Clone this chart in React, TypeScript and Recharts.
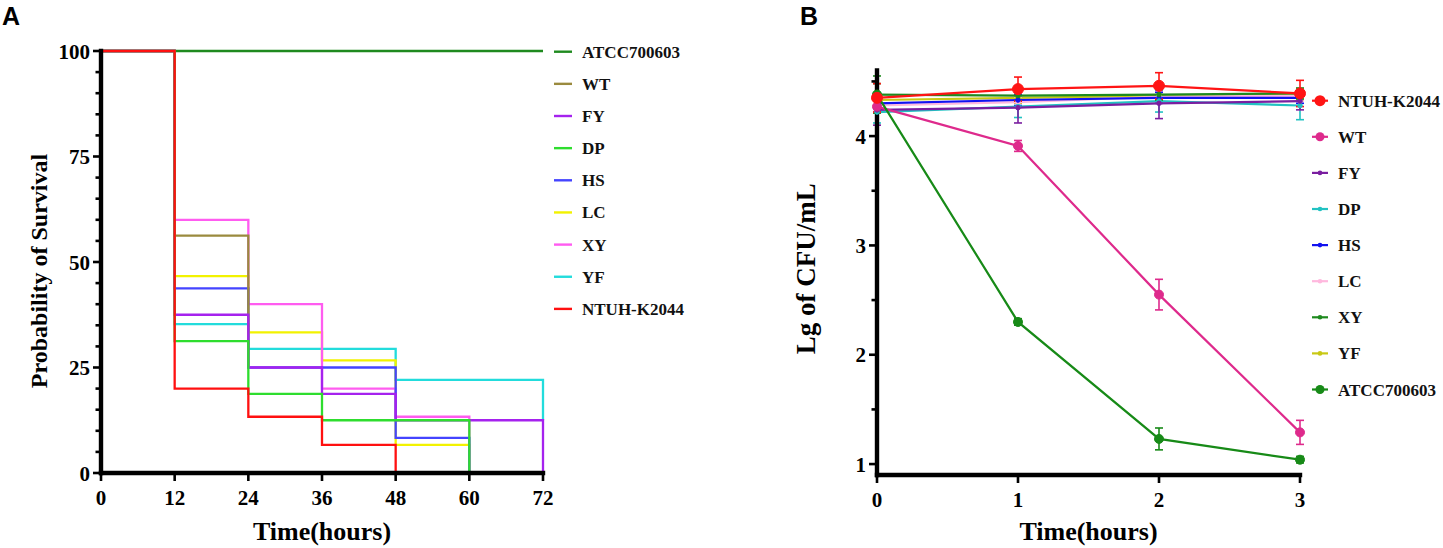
import React from 'react';
import { LineChart, Line, XAxis, YAxis, ErrorBar, Label } from 'recharts';

const SERIF = '"Liberation Serif", "Times New Roman", serif';
const SANS = '"Liberation Sans", Arial, sans-serif';

// ---- Panel A: survival (%) over time (hours), step curves
const hoursA = [0, 12, 24, 36, 48, 60, 72];
const survATCC = [100, 100, 100, 100, 100, 100, 100];
const survWT = [100, 56.25, 25, null, null, null, null];
const survFY = [100, 37.5, 25, 18.75, 12.5, 12.5, 0];
const survDP = [100, 31.25, 18.75, 12.5, 12.5, 0, null];
const survHS = [100, 43.75, 25, 25, 8.33, 0, null];
const survLC = [100, 46.67, 33.33, 26.67, 6.67, 0, null];
const survXY = [100, 60, 40, 20, 13.33, 0, null];
const survYF = [100, 35.29, 29.41, 29.41, 22.06, 22.06, 12.5];
const survNTUH = [100, 20, 13.33, 6.67, 0, null, null];
const ticksA = [0, 12, 24, 36, 48, 60, 72];
const yTicksA = [0, 5, 10, 15, 20, 25, 30, 35, 40, 45, 50, 55, 60, 65, 70, 75, 80, 85, 90, 95, 100];

// ---- Panel B: Lg CFU/mL over time (hours), mean and SD
const hoursB = [0, 1, 2, 3];
const lgNTUH = [4.35, 4.43, 4.46, 4.39];
const sdNTUH = [0.13, 0.11, 0.12, 0.12];
const lgWT = [4.27, 3.91, 2.55, 1.29];
const sdWT = [0.05, 0.05, 0.14, 0.11];
const lgFY = [4.24, 4.26, 4.3, 4.32];
const sdFY = [0.14, 0.14, 0.14, 0.08];
const lgDP = [4.22, 4.27, 4.32, 4.28];
const sdDP = [0.1, 0.1, 0.1, 0.13];
const lgHS = [4.3, 4.33, 4.35, 4.35];
const sdHS = [0.05, 0.05, 0.05, 0.05];
const lgLC = [4.28, 4.31, 4.36, 4.37];
const sdLC = [0.05, 0.05, 0.05, 0.05];
const lgXY = [4.38, 4.37, 4.38, 4.39];
const sdXY = [0.17, 0.05, 0.05, 0.05];
const lgYF = [4.33, 4.35, 4.37, 4.38];
const sdYF = [0.05, 0.05, 0.05, 0.05];
const lgATCC = [4.38, 2.3, 1.23, 1.04];
const sdATCC = [0.1, 0.03, 0.1, 0.03];
const yTicksB = [1, 1.5, 2, 2.5, 3, 3.5, 4, 4.5];

const seriesA = [
  { key: 'ATCC700603', color: '#1F8A1F', values: survATCC },
  { key: 'WT', color: '#9A8A3E', values: survWT },
  { key: 'FY', color: '#A522EE', values: survFY },
  { key: 'DP', color: '#2EDD2E', values: survDP },
  { key: 'HS', color: '#4444FF', values: survHS },
  { key: 'LC', color: '#F2F200', values: survLC },
  { key: 'XY', color: '#FF5CF0', values: survXY },
  { key: 'YF', color: '#22DCDC', values: survYF },
  { key: 'NTUH-K2044', color: '#FF1010', values: survNTUH },
];
const drawOrderA = ['ATCC700603', 'YF', 'LC', 'XY', 'HS', 'WT', 'FY', 'DP', 'NTUH-K2044'];

const seriesB = [
  { key: 'NTUH-K2044', color: '#FF1414', values: lgNTUH, sd: sdNTUH, r: 5.5 },
  { key: 'WT', color: '#DE2A8C', values: lgWT, sd: sdWT, r: 4.5 },
  { key: 'FY', color: '#7A1EA0', values: lgFY, sd: sdFY, r: 2.3 },
  { key: 'DP', color: '#22C2C2', values: lgDP, sd: sdDP, r: 2.3 },
  { key: 'HS', color: '#1212F0', values: lgHS, sd: sdHS, r: 2.3 },
  { key: 'LC', color: '#FFB8DE', values: lgLC, sd: sdLC, r: 2.3 },
  { key: 'XY', color: '#1E8A1E', values: lgXY, sd: sdXY, r: 2.3 },
  { key: 'YF', color: '#C8C814', values: lgYF, sd: sdYF, r: 2.3 },
  { key: 'ATCC700603', color: '#178A17', values: lgATCC, sd: sdATCC, r: 4.5 },
];
const drawOrderB = ['YF', 'LC', 'HS', 'DP', 'FY', 'XY', 'WT', 'ATCC700603', 'NTUH-K2044'];

const rowsA = hoursA.map((t, i) => {
  const row: any = { t };
  seriesA.forEach((s) => (row[s.key] = s.values[i]));
  return row;
});

const rowsB = hoursB.map((t, i) => {
  const row: any = { t };
  seriesB.forEach((s) => {
    row[s.key] = s.values[i];
    row[s.key + '_sd'] = s.sd[i];
  });
  return row;
});

const tickFont = { fill: '#000', fontSize: 21, fontWeight: 'bold', fontFamily: SERIF };

const makeYTick = (isMajor: (v: number) => boolean, half: number) => (props: any) => {
  const { x, y, payload } = props;
  const major = isMajor(payload.value);
  return (
    <g>
      <line x1={x - half - (major ? 6 : 3.5)} x2={x} y1={y} y2={y} stroke="#000" strokeWidth={2.6} />
      {major && (
        <text x={x - half - 9} y={y} dy="0.36em" textAnchor="end" {...tickFont}>
          {payload.value}
        </text>
      )}
    </g>
  );
};

const tickA = makeYTick((v) => v % 25 === 0, 2);
const tickB = makeYTick((v) => Number.isInteger(v), 2);

function LegendA() {
  return (
    <svg width={200} height={300} style={{ position: 'absolute', left: 548, top: 35 }}>
      {seriesA.map((s, i) => {
        const cy = 16.7 + 32.15 * i;
        return (
          <g key={s.key}>
            <line x1={6} x2={24} y1={cy} y2={cy} stroke={s.color} strokeWidth={2.4} />
            <text x={34} y={cy + 6} fontFamily={SERIF} fontWeight="bold" fontSize={17} fill="#111">
              {s.key}
            </text>
          </g>
        );
      })}
    </svg>
  );
}

function LegendB() {
  return (
    <svg width={143} height={330} style={{ position: 'absolute', left: 1300, top: 80 }}>
      {seriesB.map((s, i) => {
        const cy = 20.7 + 36.1 * i;
        return (
          <g key={s.key}>
            <line x1={12} x2={28} y1={cy} y2={cy} stroke={s.color} strokeWidth={2.2} />
            <circle cx={20} cy={cy} r={s.r} fill={s.color} />
            <text x={38} y={cy + 6} fontFamily={SERIF} fontWeight="bold" fontSize={17} fill="#111">
              {s.key}
            </text>
          </g>
        );
      })}
    </svg>
  );
}

const axisLine = { stroke: '#000', strokeWidth: 4.4, strokeLinecap: 'square' as const };

export default function App() {
  return (
    <div style={{ position: 'absolute', left: 0, top: 0, width: 1443, height: 548, background: '#fff' }}>
      <div style={{ position: 'absolute', left: 2, top: 2, fontFamily: SANS, fontWeight: 'bold', fontSize: 25, lineHeight: '28px' }}>A</div>
      <div style={{ position: 'absolute', left: 800, top: 2, fontFamily: SANS, fontWeight: 'bold', fontSize: 25, lineHeight: '28px' }}>B</div>

      <div style={{ position: 'absolute', left: 0, top: 0 }}>
        <LineChart width={760} height={548} data={rowsA} margin={{ top: 51, right: 217, bottom: 0, left: 31 }}>
          <XAxis
            dataKey="t"
            type="number"
            domain={[0, 72]}
            ticks={ticksA}
            interval={0}
            height={75}
            axisLine={axisLine}
            tickLine={{ stroke: '#000', strokeWidth: 2.6 }}
            tickSize={8}
            tickMargin={9}
            tick={tickFont}
          >
            <Label
              value="Time(hours)"
              position="insideBottom"
              offset={8}
              style={{ fontFamily: SERIF, fontWeight: 'bold', fontSize: 26, fill: '#000' }}
            />
          </XAxis>
          <YAxis
            type="number"
            domain={[0, 100]}
            ticks={yTicksA}
            interval={0}
            width={70}
            axisLine={axisLine}
            tickLine={false}
            tickSize={0}
            tickMargin={0}
            tick={tickA}
          >
            <Label
              value="Probability of Survival"
              angle={-90}
              position="insideLeft"
              offset={7}
              dy={9}
              style={{ textAnchor: 'middle', fontFamily: SERIF, fontWeight: 'bold', fontSize: 24, fill: '#000' }}
            />
          </YAxis>
          {drawOrderA.map((k) => {
            const s = seriesA.find((x) => x.key === k)!;
            return (
              <Line
                key={k}
                dataKey={k}
                type="stepAfter"
                stroke={s.color}
                strokeWidth={2.3}
                dot={false}
                activeDot={false}
                isAnimationActive={false}
              />
            );
          })}
        </LineChart>
      </div>
      <LegendA />

      <div style={{ position: 'absolute', left: 760, top: 0 }}>
        <LineChart width={683} height={548} data={rowsB} margin={{ top: 70.5, right: 143, bottom: 0, left: 47 }}>
          <XAxis
            dataKey="t"
            type="number"
            domain={[0, 3]}
            ticks={hoursB}
            interval={0}
            height={73}
            axisLine={axisLine}
            tickLine={{ stroke: '#000', strokeWidth: 2.6 }}
            tickSize={8}
            tickMargin={9}
            tick={tickFont}
          >
            <Label
              value="Time(hours)"
              position="insideBottom"
              offset={8}
              style={{ fontFamily: SERIF, fontWeight: 'bold', fontSize: 26, fill: '#000' }}
            />
          </XAxis>
          <YAxis
            type="number"
            domain={[0.9, 4.6]}
            ticks={yTicksB}
            interval={0}
            width={70}
            axisLine={axisLine}
            tickLine={false}
            tickSize={0}
            tickMargin={0}
            tick={tickB}
          >
            <Label
              value="Lg of CFU/mL"
              angle={-90}
              position="insideLeft"
              offset={-2}
              dy={-4}
              style={{ textAnchor: 'middle', fontFamily: SERIF, fontWeight: 'bold', fontSize: 27, fill: '#000' }}
            />
          </YAxis>
          {drawOrderB.map((k) => {
            const s = seriesB.find((x) => x.key === k)!;
            return (
              <Line
                key={k}
                dataKey={k}
                type="linear"
                stroke={s.color}
                strokeWidth={2.2}
                dot={{ r: s.r, fill: s.color, stroke: s.color, strokeWidth: 1 }}
                activeDot={false}
                isAnimationActive={false}
              >
                <ErrorBar dataKey={k + '_sd'} width={4} strokeWidth={1.6} stroke={s.color} direction="y" />
              </Line>
            );
          })}
        </LineChart>
      </div>
      <LegendB />
    </div>
  );
}
